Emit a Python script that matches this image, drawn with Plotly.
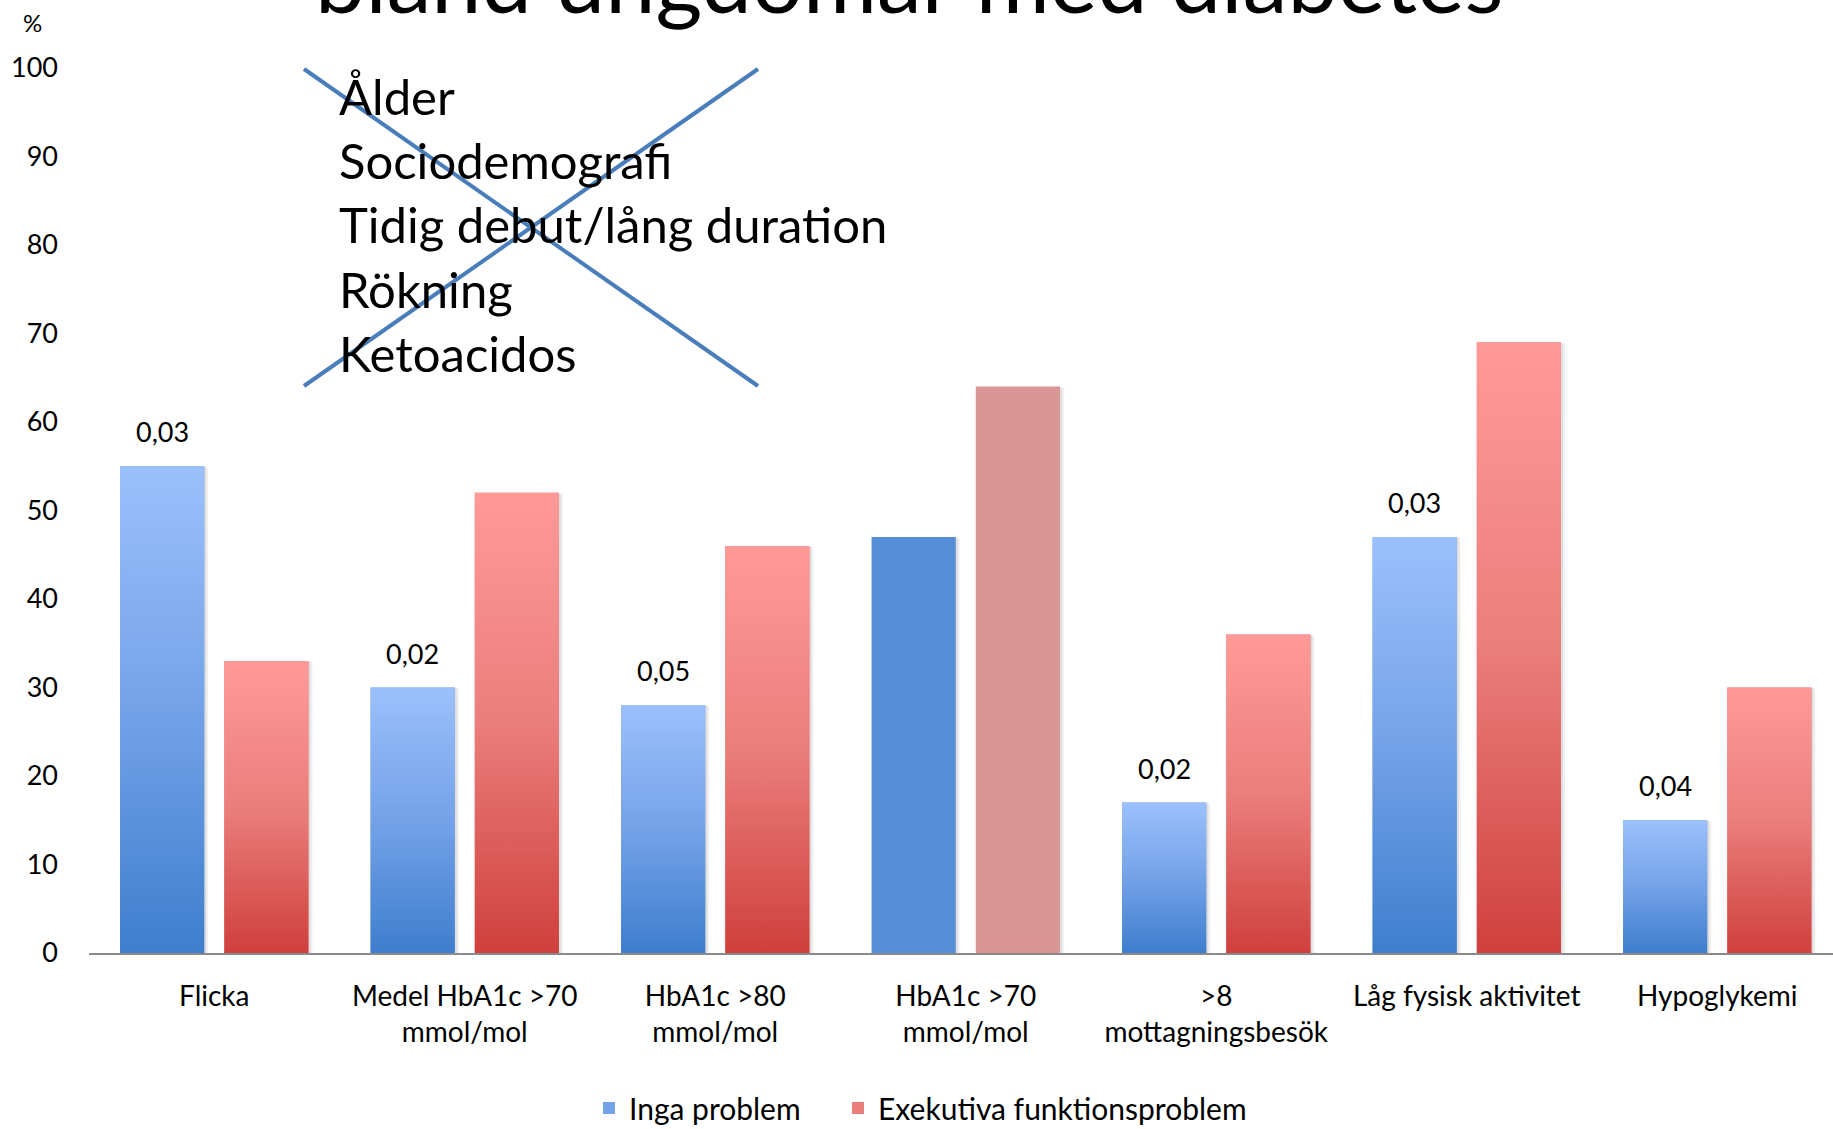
import plotly.graph_objects as go

# ---- data -------------------------------------------------------------
categories = [
    "Flicka",
    "Medel HbA1c >70<br>mmol/mol",
    "HbA1c >80<br>mmol/mol",
    "HbA1c >70<br>mmol/mol",
    ">8<br>mottagningsbesök",
    "Låg fysisk aktivitet",
    "Hypoglykemi",
]
inga_problem = [55, 30, 28, 47, 17, 47, 15]
exekutiva_problem = [33, 52, 46, 64, 36, 69, 30]
p_values = ["0,03", "0,02", "0,05", "", "0,02", "0,03", "0,04"]
y_ticks = [0, 10, 20, 30, 40, 50, 60, 70, 80, 90, 100]
crossed_out = ["Ålder", "Sociodemografi", "Tidig debut/lång duration", "Rökning", "Ketoacidos"]
title_text = "bland ungdomar med diabetes"

# ---- styling ----------------------------------------------------------
FONT = "Lato"
W, H = 1833, 1129
PL, PR, PT, PB = 89, 1833, 68, 953          # plot area in pixels
CAT_PX = 250.5                               # pixels per category
BAR_W = 0.336
OFF_BLUE, OFF_RED = -0.376, 0.04
gradient_group = [True, True, True, False, True, True, True]

BLUE_SCALE = [[0, "#3E7ECD"], [0.5, "#74A2E8"], [1, "#9CC0FC"]]
RED_SCALE = [[0, "#CF403D"], [0.5, "#EA7E7C"], [1, "#FF9A99"]]
BLUE_MID, RED_MID = "#74A2E8", "#EA7E7C"
BLUE_SOLID, RED_SOLID = "#558ED5", "#D99694"


def paper_x(px):
    return (px - PL) / (PR - PL)


def paper_y(py):
    return (PB - py) / (PB - PT)


idx = list(range(len(categories)))
fig = go.Figure()

# soft drop shadows behind the bars
for off, vals in ((OFF_BLUE, inga_problem), (OFF_RED, exekutiva_problem)):
    for k, alpha in ((2, 0.08), (4, 0.06)):
        fig.add_trace(go.Bar(
            x=idx, y=[v - 0.03 * k for v in vals], width=BAR_W,
            offset=off + k / CAT_PX, marker=dict(color=f"rgba(0,0,0,{alpha})", line=dict(width=0)),
            showlegend=False, hoverinfo="skip",
        ))

# the two series (each with its own legend entry box)
fig.add_trace(go.Bar(
    name="Inga problem", x=idx, y=inga_problem, width=BAR_W, offset=OFF_BLUE, legend="legend",
    marker=dict(color=[BLUE_MID if g else BLUE_SOLID for g in gradient_group], line=dict(width=0)),
))
fig.add_trace(go.Bar(
    name="Exekutiva funktionsproblem", x=idx, y=exekutiva_problem, width=BAR_W, offset=OFF_RED,
    legend="legend2",
    marker=dict(color=[RED_MID if g else RED_SOLID for g in gradient_group], line=dict(width=0)),
))

# vertical colour gradient on the bars
for off, vals, scale in ((OFF_BLUE, inga_problem, BLUE_SCALE), (OFF_RED, exekutiva_problem, RED_SCALE)):
    for i, v in enumerate(vals):
        if not gradient_group[i]:
            continue
        x0, x1 = i + off, i + off + BAR_W
        fig.add_trace(go.Scatter(
            x=[x0, x1, x1, x0, x0], y=[0, 0, v, v, 0], mode="lines",
            fill="toself", line=dict(width=0),
            fillgradient=dict(type="vertical", colorscale=scale),
            showlegend=False, hoverinfo="skip",
        ))

annotations = []
# p-values above the blue bars
for i, (v, p) in enumerate(zip(inga_problem, p_values)):
    if p:
        annotations.append(dict(
            x=i + OFF_BLUE + BAR_W / 2, y=v, xref="x", yref="y", text=p, showarrow=False,
            yanchor="bottom", yshift=16, font=dict(family=FONT, size=27, color="black"),
        ))

# unit label
annotations.append(dict(
    x=paper_x(32), y=paper_y(23), xref="paper", yref="paper", text="%", showarrow=False,
    xanchor="center", yanchor="middle", font=dict(family=FONT, size=24, color="black"),
))

# title (runs off the top edge)
annotations.append(dict(
    x=paper_x(909), y=paper_y(34), xref="paper", yref="paper", text=title_text, showarrow=False,
    xanchor="center", yanchor="bottom", font=dict(family=FONT, size=90, color="black"),
))

# list of factors that were crossed out
line_centers = [96, 160, 224, 289, 353]
for txt, cy in zip(crossed_out, line_centers):
    annotations.append(dict(
        x=paper_x(337), y=paper_y(cy), xref="paper", yref="paper", text=txt, showarrow=False,
        xanchor="left", yanchor="middle", font=dict(family=FONT, size=49, color="black"),
    ))

cross_color = "#4A7EBB"
shapes = [
    dict(type="line", xref="paper", yref="paper", x0=paper_x(304), y0=paper_y(69),
         x1=paper_x(758), y1=paper_y(386), line=dict(color=cross_color, width=4)),
    dict(type="line", xref="paper", yref="paper", x0=paper_x(304), y0=paper_y(386),
         x1=paper_x(758), y1=paper_y(69), line=dict(color=cross_color, width=4)),
]

legend_style = dict(
    orientation="h", xanchor="left", yanchor="middle", y=paper_y(1108),
    font=dict(family=FONT, size=30, color="black"), bgcolor="rgba(0,0,0,0)",
)

fig.update_layout(
    width=W, height=H,
    margin=dict(l=PL, r=W - PR, t=PT, b=H - PB, pad=0, autoexpand=False),
    paper_bgcolor="white", plot_bgcolor="white",
    barmode="overlay",
    font=dict(family=FONT, color="black"),
    showlegend=True,
    legend=dict(x=paper_x(589), **legend_style),
    legend2=dict(x=paper_x(838), **legend_style),
    annotations=annotations,
    shapes=shapes,
    xaxis=dict(
        range=[-0.5, -0.5 + (PR - PL) / CAT_PX], tickmode="array", tickvals=idx, ticktext=categories,
        showgrid=False, zeroline=False, showline=True, linecolor="#8A8A8A", linewidth=2,
        ticks="", tickfont=dict(family=FONT, size=28, color="black"), ticklabelstandoff=17,
        fixedrange=True, automargin=False,
    ),
    yaxis=dict(
        range=[0, 100], tickmode="array", tickvals=y_ticks,
        showgrid=False, zeroline=False, showline=False, ticks="",
        tickfont=dict(family=FONT, size=27, color="black"), ticklabelstandoff=30,
        fixedrange=True, automargin=False,
    ),
)

fig.write_html("out.html")
